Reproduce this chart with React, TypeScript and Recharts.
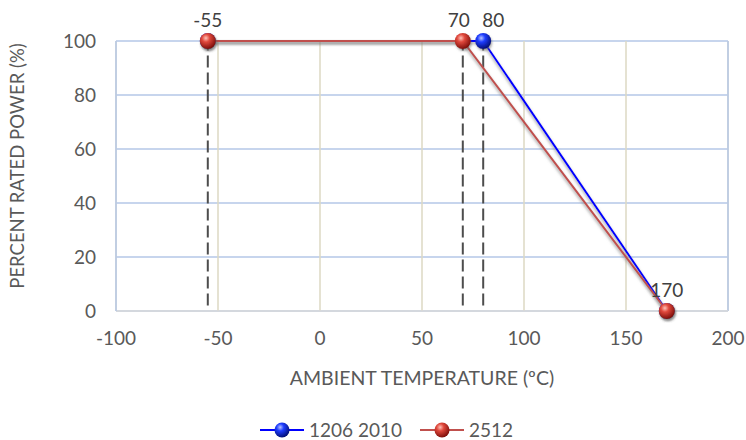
import React from "react";
import {
  LineChart,
  Line,
  XAxis,
  YAxis,
  CartesianGrid,
  ReferenceLine,
  LabelList,
} from "recharts";

// derating curves: ambient temperature (ºC) vs percent rated power
const TEMPS_1206 = [-55, 80, 170];
const POWER_1206 = [100, 100, 0];
const LABELS_1206 = ["", "80", ""];

const TEMPS_2512 = [-55, 70, 170];
const POWER_2512 = [100, 100, 0];
const LABELS_2512 = ["-55", "70", "170"];

const GUIDE_TEMPS = [-55, 70, 80];

const X_TICKS = [-100, -50, 0, 50, 100, 150, 200];
const Y_TICKS = [0, 20, 40, 60, 80, 100];

const FONT = "Lato, 'Open Sans', sans-serif";
const TEXT = "#595959";
const GRID_BLUE = "#b4c7e7";
const GRID_BEIGE = "#ddd9c3";

// the two close labels are pushed apart so they don't collide
const LABEL_ANCHOR: Record<string, "start" | "end"> = { "70": "end", "80": "start" };

const data1206 = TEMPS_1206.map((x, i) => ({ x, p: POWER_1206[i], label: LABELS_1206[i] }));
const data2512 = TEMPS_2512.map((x, i) => ({ x, p: POWER_2512[i], label: LABELS_2512[i] }));

const SERIES = [
  { name: "1206 2010", data: data1206, color: "#0000ff", grad: "sphereBlue" },
  { name: "2512", data: data2512, color: "#c0504d", grad: "sphereRed" },
];

function Sphere(props: any) {
  const { cx, cy, grad } = props;
  if (cx == null || cy == null) return null;
  return <circle cx={cx} cy={cy} r={8} fill={`url(#${grad})`} filter="url(#dotShadow)" />;
}

function PointLabel(props: any) {
  const { x, y, width, value } = props;
  if (!value) return null;
  const cx = x + (width || 0) / 2;
  const anchor = LABEL_ANCHOR[value];
  const tx = anchor === "end" ? cx + 7 : anchor === "start" ? cx - 1 : cx;
  return (
    <text x={tx} y={y - 14} textAnchor={anchor || "middle"} fill="#404040" fontSize={19} fontFamily={FONT}>
      {value}
    </text>
  );
}

function YTitle() {
  return (
    <text
      x={24}
      y={166}
      transform="rotate(-90 24 166)"
      textAnchor="middle"
      fill={TEXT}
      fontSize={18.5}
      fontFamily={FONT}
    >
      PERCENT RATED POWER (%)
    </text>
  );
}

function XTitle() {
  return (
    <text x={422} y={385} textAnchor="middle" fill={TEXT} fontSize={19.5} fontFamily={FONT}>
      AMBIENT TEMPERATURE (ºC)
    </text>
  );
}

function LegendMark({ color, grad }: { color: string; grad: string }) {
  return (
    <svg width={44} height={18} style={{ display: "block" }}>
      <line x1={0} y1={9} x2={44} y2={9} stroke={color} strokeWidth={2} />
      <circle cx={22} cy={9} r={7.5} fill={`url(#${grad})`} />
    </svg>
  );
}

export default function App() {
  return (
    <div
      style={{
        position: "absolute",
        left: 0,
        top: 0,
        width: 746,
        height: 440,
        background: "#fff",
        overflow: "hidden",
      }}
    >
      <svg width={0} height={0} style={{ position: "absolute" }}>
        <defs>
          <radialGradient id="sphereRed" cx="38%" cy="32%" r="70%">
            <stop offset="0%" stopColor="#ffc2b8" />
            <stop offset="35%" stopColor="#e0483c" />
            <stop offset="100%" stopColor="#7a0c08" />
          </radialGradient>
          <radialGradient id="sphereBlue" cx="38%" cy="32%" r="70%">
            <stop offset="0%" stopColor="#b8c4ff" />
            <stop offset="35%" stopColor="#1f3dff" />
            <stop offset="100%" stopColor="#000d70" />
          </radialGradient>
          <filter id="lineShadow" x="-10%" y="-50%" width="120%" height="200%">
            <feDropShadow dx={0} dy={2} stdDeviation={1.5} floodColor="#808080" floodOpacity={0.8} />
          </filter>
          <filter id="dotShadow" x="-50%" y="-50%" width="200%" height="200%">
            <feDropShadow dx={1} dy={2} stdDeviation={1.2} floodColor="#606060" floodOpacity={0.5} />
          </filter>
        </defs>
      </svg>

      <LineChart width={746} height={440} margin={{ top: 41, right: 18, bottom: 69, left: 0 }}>
        <CartesianGrid vertical={false} stroke={GRID_BLUE} strokeWidth={1.5} />
        <CartesianGrid horizontal={false} stroke={GRID_BEIGE} strokeWidth={1.5} />
        <XAxis
          type="number"
          dataKey="x"
          domain={[-100, 200]}
          ticks={X_TICKS}
          allowDuplicatedCategory={false}
          height={60}
          tickSize={0}
          tickMargin={21}
          tick={{ fill: TEXT, fontSize: 19, fontFamily: FONT }}
          axisLine={{ stroke: "#d9d9d9", strokeWidth: 1.5 }}
          label={<XTitle />}
        />
        <YAxis
          type="number"
          domain={[0, 100]}
          ticks={Y_TICKS}
          width={116}
          tickSize={0}
          tickMargin={20}
          tick={{ fill: TEXT, fontSize: 19, fontFamily: FONT }}
          axisLine={{ stroke: GRID_BLUE, strokeWidth: 1.5 }}
          label={<YTitle />}
        />
        <ReferenceLine x={200} stroke={GRID_BLUE} strokeWidth={1.5} />
        {GUIDE_TEMPS.map((t) => (
          <ReferenceLine
            key={t}
            segment={[
              { x: t, y: 2 },
              { x: t, y: 100 },
            ]}
            stroke="#4d4d4d"
            strokeWidth={2}
            strokeDasharray="12 5"
          />
        ))}
        {SERIES.map((s) => (
          <Line
            key={s.name}
            name={s.name}
            data={s.data}
            dataKey="p"
            type="linear"
            stroke={s.color}
            strokeWidth={2}
            filter="url(#lineShadow)"
            isAnimationActive={false}
            dot={(p: any) => <Sphere key={`${s.name}-${p.index}`} {...p} grad={s.grad} />}
            activeDot={false}
          >
            <LabelList dataKey="label" content={<PointLabel />} />
          </Line>
        ))}
      </LineChart>

      <div
        style={{
          position: "absolute",
          top: 421,
          left: 260,
          display: "flex",
          alignItems: "center",
          fontFamily: FONT,
          fontSize: 19,
          color: TEXT,
          lineHeight: "18px",
          height: 18,
        }}
      >
        {SERIES.map((s, i) => (
          <div key={s.name} style={{ display: "flex", alignItems: "center", marginRight: i === 0 ? 18 : 0 }}>
            <LegendMark color={s.color} grad={s.grad} />
            <span style={{ marginLeft: 5 }}>{s.name}</span>
          </div>
        ))}
      </div>
    </div>
  );
}
